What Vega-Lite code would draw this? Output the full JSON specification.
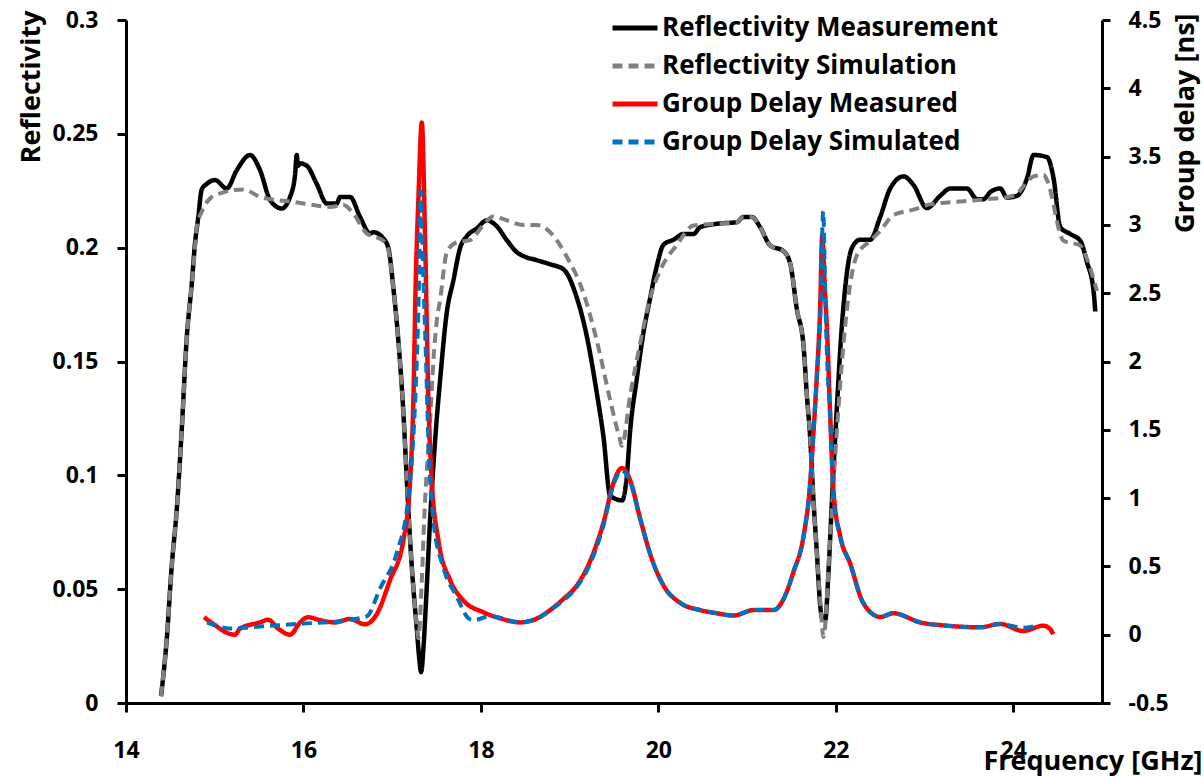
{
"$schema": "https://vega.github.io/schema/vega-lite/v6.json",
"width": 976, "height": 683,
"autosize": "none",
"padding": {"left": 126, "top": 20, "right": 102, "bottom": 74},
"background": "white",
"config": {
  "view": {"stroke": null},
  "font": "Open Sans",
  "axis": {"domainColor": "black", "domainWidth": 3, "tickColor": "black", "tickWidth": 3, "grid": false,
    "labelFont": "Open Sans", "labelFontWeight": "bold", "labelFontSize": 23, "labelColor": "black",
    "titleFont": "Open Sans", "titleFontWeight": "bold", "titleFontSize": 27, "titleColor": "black",
    "labelFlush": false, "labelOverlap": false},
  "legend": {"orient": "none", "legendX": 484, "legendY": -17, "symbolType": "stroke", "symbolSize": 2025,
    "symbolStrokeWidth": 5, "labelFont": "Open Sans", "labelFontWeight": "bold", "labelFontSize": 26,
    "labelColor": "black", "rowPadding": -7, "labelOffset": 2, "padding": 0, "labelLimit": 500}
},
"data": {"values": [
{"s":"RM","f":14.395,"v":0.003},{"s":"RM","f":14.459,"v":0.028},{"s":"RM","f":14.515,"v":0.06},{"s":"RM","f":14.572,"v":0.085},{"s":"RM","f":14.628,"v":0.12},{"s":"RM","f":14.684,"v":0.16},{"s":"RM","f":14.741,"v":0.184},{"s":"RM","f":14.778,"v":0.202},{"s":"RM","f":14.815,"v":0.2135},{"s":"RM","f":14.853,"v":0.2255},{"s":"RM","f":14.91,"v":0.228},{"s":"RM","f":15.003,"v":0.2297},{"s":"RM","f":15.135,"v":0.226},{"s":"RM","f":15.248,"v":0.234},{"s":"RM","f":15.398,"v":0.2407},{"s":"RM","f":15.511,"v":0.234},{"s":"RM","f":15.623,"v":0.221},{"s":"RM","f":15.755,"v":0.2172},{"s":"RM","f":15.849,"v":0.2223},{"s":"RM","f":15.905,"v":0.232},{"s":"RM","f":15.924,"v":0.2407},{"s":"RM","f":15.939,"v":0.236},{"s":"RM","f":15.962,"v":0.237},{"s":"RM","f":16.037,"v":0.236},{"s":"RM","f":16.15,"v":0.228},{"s":"RM","f":16.263,"v":0.2194},{"s":"RM","f":16.375,"v":0.2194},{"s":"RM","f":16.413,"v":0.2223},{"s":"RM","f":16.525,"v":0.2223},{"s":"RM","f":16.638,"v":0.2135},{"s":"RM","f":16.751,"v":0.2062},{"s":"RM","f":16.788,"v":0.2068},{"s":"RM","f":16.901,"v":0.204},{"s":"RM","f":16.957,"v":0.1998},{"s":"RM","f":17.014,"v":0.182},{"s":"RM","f":17.07,"v":0.159},{"s":"RM","f":17.126,"v":0.1277},{"s":"RM","f":17.165,"v":0.0979},{"s":"RM","f":17.202,"v":0.0715},{"s":"RM","f":17.239,"v":0.0504},{"s":"RM","f":17.277,"v":0.0328},{"s":"RM","f":17.307,"v":0.0188},{"s":"RM","f":17.326,"v":0.0135},{"s":"RM","f":17.352,"v":0.024},{"s":"RM","f":17.382,"v":0.045},{"s":"RM","f":17.427,"v":0.0803},{"s":"RM","f":17.484,"v":0.1154},{"s":"RM","f":17.54,"v":0.1418},{"s":"RM","f":17.616,"v":0.1717},{"s":"RM","f":17.69,"v":0.1857},{"s":"RM","f":17.765,"v":0.1998},{"s":"RM","f":17.841,"v":0.205},{"s":"RM","f":17.954,"v":0.2085},{"s":"RM","f":18.067,"v":0.212},{"s":"RM","f":18.179,"v":0.2094},{"s":"RM","f":18.292,"v":0.2033},{"s":"RM","f":18.405,"v":0.198},{"s":"RM","f":18.479,"v":0.1963},{"s":"RM","f":18.63,"v":0.1945},{"s":"RM","f":18.78,"v":0.1927},{"s":"RM","f":18.93,"v":0.1905},{"s":"RM","f":19.081,"v":0.178},{"s":"RM","f":19.194,"v":0.161},{"s":"RM","f":19.307,"v":0.136},{"s":"RM","f":19.381,"v":0.117},{"s":"RM","f":19.457,"v":0.091},{"s":"RM","f":19.592,"v":0.089},{"s":"RM","f":19.645,"v":0.1},{"s":"RM","f":19.682,"v":0.1195},{"s":"RM","f":19.758,"v":0.1427},{"s":"RM","f":19.832,"v":0.1627},{"s":"RM","f":19.908,"v":0.178},{"s":"RM","f":19.983,"v":0.192},{"s":"RM","f":20.058,"v":0.2013},{"s":"RM","f":20.17,"v":0.2035},{"s":"RM","f":20.283,"v":0.206},{"s":"RM","f":20.396,"v":0.206},{"s":"RM","f":20.471,"v":0.209},{"s":"RM","f":20.659,"v":0.2105},{"s":"RM","f":20.885,"v":0.2112},{"s":"RM","f":20.959,"v":0.2135},{"s":"RM","f":21.054,"v":0.2135},{"s":"RM","f":21.147,"v":0.209},{"s":"RM","f":21.26,"v":0.201},{"s":"RM","f":21.41,"v":0.1985},{"s":"RM","f":21.486,"v":0.193},{"s":"RM","f":21.561,"v":0.173},{"s":"RM","f":21.636,"v":0.157},{"s":"RM","f":21.674,"v":0.135},{"s":"RM","f":21.711,"v":0.1165},{"s":"RM","f":21.749,"v":0.0886},{"s":"RM","f":21.787,"v":0.0656},{"s":"RM","f":21.824,"v":0.043},{"s":"RM","f":21.843,"v":0.0375},{"s":"RM","f":21.88,"v":0.0363},{"s":"RM","f":21.918,"v":0.058},{"s":"RM","f":21.956,"v":0.0886},{"s":"RM","f":22.012,"v":0.13},{"s":"RM","f":22.069,"v":0.166},{"s":"RM","f":22.125,"v":0.189},{"s":"RM","f":22.181,"v":0.1998},{"s":"RM","f":22.275,"v":0.2035},{"s":"RM","f":22.388,"v":0.2035},{"s":"RM","f":22.5,"v":0.2135},{"s":"RM","f":22.613,"v":0.226},{"s":"RM","f":22.763,"v":0.2313},{"s":"RM","f":22.876,"v":0.2275},{"s":"RM","f":23.027,"v":0.2174},{"s":"RM","f":23.177,"v":0.2228},{"s":"RM","f":23.29,"v":0.226},{"s":"RM","f":23.478,"v":0.226},{"s":"RM","f":23.591,"v":0.2213},{"s":"RM","f":23.665,"v":0.2213},{"s":"RM","f":23.741,"v":0.2244},{"s":"RM","f":23.853,"v":0.226},{"s":"RM","f":23.929,"v":0.222},{"s":"RM","f":24.042,"v":0.2228},{"s":"RM","f":24.155,"v":0.2305},{"s":"RM","f":24.229,"v":0.2407},{"s":"RM","f":24.38,"v":0.2398},{"s":"RM","f":24.454,"v":0.2305},{"s":"RM","f":24.53,"v":0.209},{"s":"RM","f":24.643,"v":0.206},{"s":"RM","f":24.755,"v":0.203},{"s":"RM","f":24.831,"v":0.1936},{"s":"RM","f":24.905,"v":0.181},{"s":"RM","f":24.924,"v":0.172},
{"s":"RS","f":14.395,"v":0.003},{"s":"RS","f":14.459,"v":0.028},{"s":"RS","f":14.515,"v":0.06},{"s":"RS","f":14.572,"v":0.085},{"s":"RS","f":14.628,"v":0.12},{"s":"RS","f":14.684,"v":0.16},{"s":"RS","f":14.741,"v":0.184},{"s":"RS","f":14.778,"v":0.2},{"s":"RS","f":14.797,"v":0.209},{"s":"RS","f":14.853,"v":0.2157},{"s":"RS","f":14.947,"v":0.2216},{"s":"RS","f":15.06,"v":0.2238},{"s":"RS","f":15.322,"v":0.2256},{"s":"RS","f":15.511,"v":0.2223},{"s":"RS","f":15.699,"v":0.2209},{"s":"RS","f":15.886,"v":0.2201},{"s":"RS","f":16.112,"v":0.2187},{"s":"RS","f":16.3,"v":0.2179},{"s":"RS","f":16.45,"v":0.2187},{"s":"RS","f":16.563,"v":0.215},{"s":"RS","f":16.714,"v":0.2062},{"s":"RS","f":16.788,"v":0.205},{"s":"RS","f":16.901,"v":0.203},{"s":"RS","f":16.957,"v":0.199},{"s":"RS","f":17.014,"v":0.182},{"s":"RS","f":17.07,"v":0.159},{"s":"RS","f":17.126,"v":0.1277},{"s":"RS","f":17.165,"v":0.098},{"s":"RS","f":17.202,"v":0.0715},{"s":"RS","f":17.239,"v":0.05},{"s":"RS","f":17.277,"v":0.034},{"s":"RS","f":17.295,"v":0.0284},{"s":"RS","f":17.334,"v":0.054},{"s":"RS","f":17.36,"v":0.08},{"s":"RS","f":17.427,"v":0.124},{"s":"RS","f":17.464,"v":0.15},{"s":"RS","f":17.503,"v":0.168},{"s":"RS","f":17.54,"v":0.177},{"s":"RS","f":17.616,"v":0.198},{"s":"RS","f":17.728,"v":0.2024},{"s":"RS","f":17.878,"v":0.2033},{"s":"RS","f":18.028,"v":0.21},{"s":"RS","f":18.14,"v":0.2138},{"s":"RS","f":18.292,"v":0.212},{"s":"RS","f":18.479,"v":0.21},{"s":"RS","f":18.63,"v":0.21},{"s":"RS","f":18.78,"v":0.2068},{"s":"RS","f":18.968,"v":0.196},{"s":"RS","f":19.156,"v":0.18},{"s":"RS","f":19.307,"v":0.159},{"s":"RS","f":19.457,"v":0.133},{"s":"RS","f":19.569,"v":0.1154},{"s":"RS","f":19.588,"v":0.113},{"s":"RS","f":19.682,"v":0.135},{"s":"RS","f":19.795,"v":0.158},{"s":"RS","f":19.908,"v":0.178},{"s":"RS","f":20.02,"v":0.19},{"s":"RS","f":20.208,"v":0.2012},{"s":"RS","f":20.396,"v":0.2097},{"s":"RS","f":20.659,"v":0.2105},{"s":"RS","f":20.885,"v":0.2112},{"s":"RS","f":20.959,"v":0.2135},{"s":"RS","f":21.054,"v":0.2135},{"s":"RS","f":21.147,"v":0.209},{"s":"RS","f":21.26,"v":0.201},{"s":"RS","f":21.41,"v":0.1985},{"s":"RS","f":21.486,"v":0.193},{"s":"RS","f":21.561,"v":0.173},{"s":"RS","f":21.636,"v":0.157},{"s":"RS","f":21.674,"v":0.135},{"s":"RS","f":21.711,"v":0.1165},{"s":"RS","f":21.749,"v":0.0886},{"s":"RS","f":21.787,"v":0.0656},{"s":"RS","f":21.824,"v":0.045},{"s":"RS","f":21.861,"v":0.029},{"s":"RS","f":21.937,"v":0.073},{"s":"RS","f":22.012,"v":0.1195},{"s":"RS","f":22.087,"v":0.158},{"s":"RS","f":22.162,"v":0.184},{"s":"RS","f":22.238,"v":0.1967},{"s":"RS","f":22.388,"v":0.203},{"s":"RS","f":22.5,"v":0.2074},{"s":"RS","f":22.65,"v":0.2143},{"s":"RS","f":22.876,"v":0.2167},{"s":"RS","f":23.064,"v":0.219},{"s":"RS","f":23.44,"v":0.2204},{"s":"RS","f":23.704,"v":0.2213},{"s":"RS","f":24.003,"v":0.2228},{"s":"RS","f":24.229,"v":0.2313},{"s":"RS","f":24.342,"v":0.232},{"s":"RS","f":24.38,"v":0.2297},{"s":"RS","f":24.567,"v":0.203},{"s":"RS","f":24.755,"v":0.201},{"s":"RS","f":24.831,"v":0.195},{"s":"RS","f":24.943,"v":0.181},
{"s":"GDM","f":14.879,"v":0.128},{"s":"GDM","f":15.003,"v":0.07},{"s":"GDM","f":15.15,"v":0.01},{"s":"GDM","f":15.229,"v":0.0},{"s":"GDM","f":15.285,"v":0.045},{"s":"GDM","f":15.511,"v":0.09},{"s":"GDM","f":15.601,"v":0.11},{"s":"GDM","f":15.714,"v":0.045},{"s":"GDM","f":15.849,"v":0.0},{"s":"GDM","f":15.962,"v":0.09},{"s":"GDM","f":16.052,"v":0.128},{"s":"GDM","f":16.187,"v":0.106},{"s":"GDM","f":16.356,"v":0.09},{"s":"GDM","f":16.525,"v":0.115},{"s":"GDM","f":16.694,"v":0.076},{"s":"GDM","f":16.826,"v":0.15},{"s":"GDM","f":16.976,"v":0.4},{"s":"GDM","f":17.126,"v":0.69},{"s":"GDM","f":17.202,"v":1.13},{"s":"GDM","f":17.239,"v":1.72},{"s":"GDM","f":17.266,"v":2.6},{"s":"GDM","f":17.295,"v":3.18},{"s":"GDM","f":17.334,"v":3.75},{"s":"GDM","f":17.371,"v":2.89},{"s":"GDM","f":17.408,"v":1.72},{"s":"GDM","f":17.446,"v":1.13},{"s":"GDM","f":17.521,"v":0.69},{"s":"GDM","f":17.653,"v":0.4},{"s":"GDM","f":17.803,"v":0.25},{"s":"GDM","f":18.028,"v":0.164},{"s":"GDM","f":18.216,"v":0.12},{"s":"GDM","f":18.442,"v":0.09},{"s":"GDM","f":18.667,"v":0.13},{"s":"GDM","f":18.78,"v":0.18},{"s":"GDM","f":18.927,"v":0.26},{"s":"GDM","f":19.081,"v":0.36},{"s":"GDM","f":19.232,"v":0.54},{"s":"GDM","f":19.381,"v":0.82},{"s":"GDM","f":19.494,"v":1.11},{"s":"GDM","f":19.588,"v":1.22},{"s":"GDM","f":19.682,"v":1.13},{"s":"GDM","f":19.795,"v":0.85},{"s":"GDM","f":19.908,"v":0.59},{"s":"GDM","f":20.058,"v":0.36},{"s":"GDM","f":20.246,"v":0.233},{"s":"GDM","f":20.471,"v":0.18},{"s":"GDM","f":20.659,"v":0.157},{"s":"GDM","f":20.847,"v":0.14},{"s":"GDM","f":21.072,"v":0.18},{"s":"GDM","f":21.298,"v":0.18},{"s":"GDM","f":21.41,"v":0.26},{"s":"GDM","f":21.523,"v":0.46},{"s":"GDM","f":21.636,"v":0.72},{"s":"GDM","f":21.711,"v":1.11},{"s":"GDM","f":21.749,"v":1.49},{"s":"GDM","f":21.787,"v":1.9},{"s":"GDM","f":21.824,"v":2.4},{"s":"GDM","f":21.847,"v":2.93},{"s":"GDM","f":21.871,"v":2.6},{"s":"GDM","f":21.903,"v":2.2},{"s":"GDM","f":21.937,"v":1.6},{"s":"GDM","f":21.974,"v":1.05},{"s":"GDM","f":22.05,"v":0.72},{"s":"GDM","f":22.162,"v":0.52},{"s":"GDM","f":22.309,"v":0.233},{"s":"GDM","f":22.5,"v":0.13},{"s":"GDM","f":22.647,"v":0.157},{"s":"GDM","f":22.951,"v":0.09},{"s":"GDM","f":23.252,"v":0.066},{"s":"GDM","f":23.628,"v":0.054},{"s":"GDM","f":23.853,"v":0.079},{"s":"GDM","f":24.113,"v":0.027},{"s":"GDM","f":24.338,"v":0.066},{"s":"GDM","f":24.417,"v":0.04},{"s":"GDM","f":24.451,"v":0.003},
{"s":"GDS","f":14.913,"v":0.09},{"s":"GDS","f":15.172,"v":0.046},{"s":"GDS","f":15.511,"v":0.06},{"s":"GDS","f":15.962,"v":0.08},{"s":"GDS","f":16.413,"v":0.1},{"s":"GDS","f":16.714,"v":0.135},{"s":"GDS","f":16.864,"v":0.34},{"s":"GDS","f":17.052,"v":0.6},{"s":"GDS","f":17.179,"v":0.985},{"s":"GDS","f":17.236,"v":1.42},{"s":"GDS","f":17.277,"v":2.01},{"s":"GDS","f":17.303,"v":2.6},{"s":"GDS","f":17.32,"v":3.25},{"s":"GDS","f":17.352,"v":2.6},{"s":"GDS","f":17.382,"v":2.0},{"s":"GDS","f":17.408,"v":1.42},{"s":"GDS","f":17.464,"v":0.84},{"s":"GDS","f":17.577,"v":0.49},{"s":"GDS","f":17.728,"v":0.28},{"s":"GDS","f":17.859,"v":0.12},{"s":"GDS","f":17.912,"v":0.106},{"s":"GDS","f":18.104,"v":0.135},{"s":"GDS","f":18.442,"v":0.09},{"s":"GDS","f":18.667,"v":0.13},{"s":"GDS","f":18.78,"v":0.18},{"s":"GDS","f":18.927,"v":0.25},{"s":"GDS","f":19.081,"v":0.35},{"s":"GDS","f":19.232,"v":0.52},{"s":"GDS","f":19.381,"v":0.8},{"s":"GDS","f":19.494,"v":1.1},{"s":"GDS","f":19.588,"v":1.2},{"s":"GDS","f":19.682,"v":1.12},{"s":"GDS","f":19.795,"v":0.85},{"s":"GDS","f":19.908,"v":0.59},{"s":"GDS","f":20.058,"v":0.36},{"s":"GDS","f":20.246,"v":0.233},{"s":"GDS","f":20.471,"v":0.18},{"s":"GDS","f":20.659,"v":0.157},{"s":"GDS","f":20.847,"v":0.14},{"s":"GDS","f":21.072,"v":0.18},{"s":"GDS","f":21.298,"v":0.18},{"s":"GDS","f":21.41,"v":0.26},{"s":"GDS","f":21.523,"v":0.46},{"s":"GDS","f":21.636,"v":0.72},{"s":"GDS","f":21.711,"v":1.11},{"s":"GDS","f":21.749,"v":1.49},{"s":"GDS","f":21.787,"v":1.9},{"s":"GDS","f":21.824,"v":2.3},{"s":"GDS","f":21.858,"v":3.1},{"s":"GDS","f":21.88,"v":2.5},{"s":"GDS","f":21.903,"v":2.0},{"s":"GDS","f":21.937,"v":1.6},{"s":"GDS","f":21.974,"v":1.0},{"s":"GDS","f":22.05,"v":0.72},{"s":"GDS","f":22.162,"v":0.52},{"s":"GDS","f":22.309,"v":0.233},{"s":"GDS","f":22.5,"v":0.13},{"s":"GDS","f":22.647,"v":0.157},{"s":"GDS","f":22.951,"v":0.09},{"s":"GDS","f":23.252,"v":0.066},{"s":"GDS","f":23.628,"v":0.054},{"s":"GDS","f":23.853,"v":0.079},{"s":"GDS","f":24.113,"v":0.05},{"s":"GDS","f":24.259,"v":0.066}
]},
"encoding": {
  "x": {"field": "f", "type": "quantitative", "scale": {"domain": [14, 25], "nice": false, "zero": false},
    "axis": {"values": [14, 16, 18, 20, 22, 24], "tickSize": 9, "labelPadding": 45, "labelBaseline": "alphabetic",
      "title": "Frequency [GHz]", "titleFontSize": 27, "titleX": 1076, "titleY": 66, "titleAlign": "right", "titleBaseline": "alphabetic", "titleAnchor": null}},
  "color": {"field": "s", "type": "nominal",
    "scale": {"domain": ["RM", "RS", "GDM", "GDS"], "range": ["#000000", "#808080", "#FF0000", "#0070C0"]},
    "legend": {"title": null, "labelExpr": "datum.label=='RM'?'Reflectivity Measurement':datum.label=='RS'?'Reflectivity Simulation':datum.label=='GDM'?'Group Delay Measured':'Group Delay Simulated'"}},
  "strokeDash": {"field": "s", "type": "nominal",
    "scale": {"domain": ["RM", "RS", "GDM", "GDS"], "range": [[1, 0], [10, 6], [1, 0], [10, 6]]},
    "legend": {"title": null, "labelExpr": "datum.label=='RM'?'Reflectivity Measurement':datum.label=='RS'?'Reflectivity Simulation':datum.label=='GDM'?'Group Delay Measured':'Group Delay Simulated'"}}
},
"layer": [
  {
    "encoding": {"y": {"field": "v", "type": "quantitative", "scale": {"domain": [0, 0.3], "nice": false, "zero": false},
      "axis": {"orient": "left", "values": [0, 0.05, 0.1, 0.15, 0.2, 0.25, 0.3], "tickSize": 9, "labelPadding": 19,
        "labelExpr": "'' + datum.value", "title": "Reflectivity", "titleAngle": -90, "titleX": -87, "titleY": -10,
        "titleAlign": "right", "titleBaseline": "alphabetic"}}},
    "layer": [
      {"transform": [{"filter": "datum.s == 'RM'"}], "mark": {"type": "line", "strokeWidth": 4.5, "strokeJoin": "round", "interpolate": "monotone"}},
      {"transform": [{"filter": "datum.s == 'RS'"}], "mark": {"type": "line", "strokeWidth": 4, "strokeJoin": "round", "interpolate": "monotone"}}
    ]
  },
  {
    "encoding": {"y": {"field": "v", "type": "quantitative", "scale": {"domain": [-0.5, 4.5], "nice": false, "zero": false},
      "axis": {"orient": "right", "values": [-0.5, 0, 0.5, 1, 1.5, 2, 2.5, 3, 3.5, 4, 4.5], "tickSize": 8, "labelPadding": 18,
        "labelExpr": "'' + datum.value", "title": "Group delay [ns]", "titleAngle": -90, "titleX": 91, "titleY": -7,
        "titleAlign": "right", "titleBaseline": "alphabetic"}}},
    "layer": [
      {"transform": [{"filter": "datum.s == 'GDM'"}], "mark": {"type": "line", "strokeWidth": 4.5, "strokeJoin": "round", "interpolate": "monotone"}},
      {"transform": [{"filter": "datum.s == 'GDS'"}], "mark": {"type": "line", "strokeWidth": 4, "strokeJoin": "round", "interpolate": "monotone"}}
    ]
  }
],
"resolve": {"scale": {"y": "independent"}}
}
